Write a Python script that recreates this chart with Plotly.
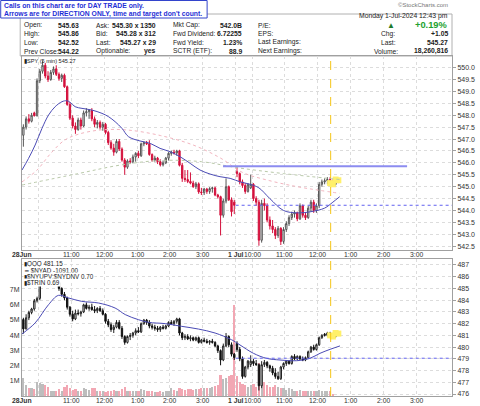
import plotly.graph_objects as go

# ---------------- data ----------------
# SPY 5-min bars: Jun 28 09:30-15:55 (idx 0-77), Jul 1 09:30-12:25 (idx 78-115)
spy_open = [547.16,547.50,547.85,547.75,548.10,547.98,549.45,549.85,550.10,549.65,
            549.50,549.80,549.95,549.72,549.55,549.68,549.20,548.45,547.88,547.55,
            547.40,547.80,547.55,548.10,548.15,548.20,547.85,547.62,547.70,547.50,
            547.62,547.28,546.85,546.62,546.45,546.90,546.58,546.12,545.82,546.08,
            546.05,546.25,546.40,546.30,546.80,546.85,546.80,546.35,546.12,546.20,
            546.05,545.92,546.00,546.20,546.40,546.45,546.42,546.50,545.90,545.35,
            545.30,545.22,545.15,545.00,545.12,544.78,544.75,544.90,544.80,544.92,
            544.95,544.65,544.58,543.80,544.40,545.00,544.45,544.35,
            545.63,545.55,545.20,545.05,544.80,544.95,545.10,544.50,544.35,542.75,
            544.30,544.20,543.60,543.35,543.20,542.95,543.25,542.70,543.20,543.45,
            543.70,543.85,543.90,543.65,544.20,543.80,543.70,544.10,544.35,544.00,
            544.20,545.10,545.20,545.25,545.30,545.15,545.10,545.30]
spy_high = [547.62,547.95,548.05,548.10,548.15,549.55,549.95,550.28,550.20,549.85,
            549.90,550.05,550.10,549.80,549.75,549.75,549.25,548.55,548.00,547.70,
            547.90,547.90,548.20,548.30,548.25,548.30,547.95,547.80,547.78,547.72,
            547.68,547.35,546.95,546.80,547.00,547.00,546.65,546.20,546.15,546.20,
            546.35,546.45,546.50,546.85,546.90,546.92,546.95,546.40,546.30,546.25,
            546.15,546.10,546.25,546.45,546.52,546.55,546.55,546.55,546.00,545.70,
            545.70,545.60,545.25,545.20,545.18,544.95,544.95,544.95,544.98,545.00,
            545.00,544.70,544.62,544.50,545.35,545.05,544.55,544.45,
            545.86,545.60,545.30,545.15,545.15,545.50,545.15,544.60,544.45,544.45,
            544.50,544.30,543.75,543.60,543.30,543.35,543.30,543.30,543.55,543.80,
            543.95,544.00,543.95,544.30,544.25,543.90,544.20,544.45,544.45,544.30,
            545.20,545.30,545.35,545.40,545.40,545.30,545.35,545.35]
spy_low = [546.68,547.40,547.65,547.70,547.95,547.95,549.35,549.75,549.55,549.40,
           549.45,549.70,549.65,549.45,549.40,549.15,548.40,547.80,547.45,547.22,
           547.35,547.40,547.50,547.95,547.85,547.75,547.50,547.45,547.40,547.35,
           547.20,546.75,546.55,546.30,546.40,546.50,546.05,545.50,545.75,545.95,
           545.98,546.05,546.20,546.25,546.70,546.75,546.30,546.05,546.05,545.95,
           545.85,545.85,545.95,546.10,546.30,546.35,546.30,545.85,545.20,545.20,
           545.15,545.10,544.95,544.90,544.70,544.65,544.65,544.70,544.70,544.75,
           544.60,544.50,542.95,543.70,544.30,544.40,543.75,543.85,
           545.40,545.10,544.95,544.70,544.75,544.90,544.40,544.20,542.52,542.65,
           544.00,543.50,543.20,543.05,542.80,542.85,542.55,542.60,543.10,543.35,
           543.60,543.70,543.55,543.60,543.70,543.60,543.65,543.95,543.90,543.90,
           544.10,545.00,545.10,545.10,545.05,545.00,545.05,545.15]
spy_close = [547.50,547.85,547.75,548.00,547.98,549.45,549.85,550.10,549.65,549.50,
             549.80,549.95,549.72,549.55,549.68,549.20,548.45,547.88,547.55,547.40,
             547.80,547.55,548.10,548.15,548.20,547.85,547.62,547.70,547.50,547.62,
             547.28,546.85,546.62,546.45,546.90,546.58,546.12,545.82,546.08,546.05,
             546.25,546.40,546.30,546.80,546.85,546.80,546.35,546.12,546.20,546.05,
             545.92,546.00,546.20,546.40,546.45,546.42,546.50,545.90,545.35,545.30,
             545.22,545.15,545.00,545.12,544.78,544.75,544.90,544.80,544.92,544.95,
             544.65,544.58,543.80,544.40,545.00,544.45,543.95,544.22,
             545.55,545.20,545.05,544.80,545.10,545.10,544.50,544.35,542.75,544.30,
             544.20,543.60,543.35,543.20,542.95,543.25,542.70,543.20,543.45,543.70,
             543.85,543.90,543.65,544.20,543.80,543.70,544.10,544.35,544.00,544.20,
             545.10,545.20,545.25,545.30,545.15,545.10,545.30,545.27]

# QQQ 5-min bars (same times)
qqq_open = [482.35,481.55,482.50,482.95,483.25,483.95,484.15,485.60,486.30,487.00,
            486.60,486.20,485.80,485.50,485.00,484.50,484.20,483.40,482.80,482.40,
            482.90,482.85,483.00,483.60,483.30,483.40,483.20,483.10,483.30,483.10,
            482.80,482.20,481.90,481.50,481.70,482.10,481.60,480.90,480.40,480.90,
            481.00,481.20,481.40,481.30,482.00,482.30,482.10,481.80,481.70,481.60,
            481.50,481.70,481.60,481.80,482.10,482.00,482.20,482.40,481.20,480.80,
            480.90,480.70,480.80,480.60,480.80,480.40,480.60,480.50,480.40,480.50,
            480.40,480.10,479.70,478.90,480.10,480.90,480.20,479.40,
            480.30,479.80,479.00,477.50,478.30,478.50,478.80,478.60,478.50,476.70,
            478.50,478.70,478.40,478.20,477.80,477.50,477.30,478.30,478.60,478.80,
            478.60,479.20,479.00,479.20,479.00,478.90,479.10,479.60,480.00,479.80,
            480.20,480.80,481.10,481.00,481.20,481.00,480.90,481.20]
qqq_high = [482.50,482.80,483.10,483.35,484.10,484.30,485.80,486.50,487.20,487.40,
            486.90,486.50,486.10,485.60,485.10,484.70,484.30,483.50,483.10,483.20,
            483.20,483.10,483.70,483.80,483.60,483.70,483.50,483.40,483.50,483.30,
            482.90,482.40,482.10,481.90,482.30,482.30,481.80,481.00,481.00,481.20,
            481.30,481.60,481.70,482.10,482.40,482.40,482.30,482.00,481.90,481.80,
            481.80,481.90,481.90,482.20,482.30,482.30,482.50,482.50,481.30,481.10,
            481.10,481.00,480.90,480.90,480.90,480.70,480.80,480.70,480.60,480.70,
            480.50,480.20,479.80,480.30,481.20,481.00,480.40,479.50,
            480.50,480.00,479.20,478.40,478.90,479.30,479.00,478.90,478.60,478.80,
            478.90,478.80,478.50,478.40,478.20,477.90,478.40,478.70,478.90,478.90,
            479.30,479.40,479.30,479.30,479.20,479.20,479.70,480.10,480.20,480.30,
            480.90,481.10,481.20,481.30,481.30,481.20,481.30,481.30]
qqq_low = [481.15,481.50,482.30,482.80,483.10,483.80,484.00,485.50,486.10,486.40,
           486.00,485.60,485.30,484.80,484.30,484.00,483.20,482.60,482.20,482.30,
           482.70,482.60,482.90,483.20,483.10,483.10,482.90,482.90,483.00,482.70,
           482.00,481.70,481.30,481.20,481.60,481.50,480.70,480.20,480.30,480.60,
           480.80,481.00,481.20,481.20,481.90,481.90,481.60,481.50,481.40,481.30,
           481.30,481.50,481.50,481.70,481.90,481.80,482.00,481.00,480.60,480.60,
           480.60,480.50,480.50,480.50,480.30,480.30,480.40,480.30,480.20,480.30,
           480.00,479.50,478.45,478.80,480.00,480.00,479.20,478.90,
           479.60,478.80,477.30,477.40,478.10,478.30,478.40,478.40,476.30,476.50,
           478.30,478.20,477.90,477.60,477.30,477.20,477.20,478.10,478.40,478.50,
           478.50,478.90,478.90,478.90,478.80,478.80,479.00,479.50,479.70,479.70,
           480.10,480.70,480.90,480.90,480.90,480.80,480.80,481.00]
qqq_close = [481.55,482.50,482.95,483.25,483.95,484.15,485.60,486.30,487.00,486.60,
             486.20,485.80,485.50,485.00,484.50,484.20,483.40,482.80,482.40,482.90,
             482.85,483.00,483.60,483.30,483.40,483.20,483.10,483.30,483.10,482.80,
             482.20,481.90,481.50,481.70,482.10,481.60,480.90,480.40,480.90,481.00,
             481.20,481.40,481.30,482.00,482.30,482.10,481.80,481.70,481.60,481.50,
             481.70,481.60,481.80,482.10,482.00,482.20,482.40,481.20,480.80,480.90,
             480.70,480.80,480.60,480.80,480.40,480.60,480.50,480.40,480.50,480.40,
             480.10,479.70,478.90,480.10,480.90,480.20,479.40,479.11,
             479.80,479.00,477.50,478.30,478.80,478.80,478.60,478.50,476.70,478.50,
             478.70,478.40,478.20,477.80,477.50,477.30,478.30,478.60,478.80,478.60,
             479.20,479.00,479.20,479.00,478.90,479.10,479.60,480.00,479.80,480.20,
             480.80,481.00,481.00,481.20,481.00,480.90,481.20,481.15]

# SPY volume per bar, millions
volume_m = [1.15,0.75,0.55,0.50,0.45,0.95,0.85,0.80,0.75,0.60,
            0.35,0.30,0.35,0.45,0.35,0.60,0.75,0.55,0.40,0.45,
            0.35,0.30,0.50,0.45,0.40,0.55,0.50,0.35,0.30,0.30,
            0.25,0.30,0.35,0.40,0.30,0.30,0.45,0.60,0.30,0.35,
            0.30,0.30,0.30,0.45,0.40,0.35,0.30,0.30,0.25,0.25,
            0.30,0.25,0.30,0.30,0.55,0.40,0.30,0.50,0.45,0.40,
            0.45,0.45,0.40,0.45,0.45,0.50,0.55,0.50,0.55,0.60,
            0.65,0.70,1.35,1.10,1.20,1.30,1.40,6.00,
            1.30,0.90,0.80,0.70,0.60,0.70,0.80,0.60,2.20,1.40,
            0.90,0.70,0.60,0.60,0.70,0.60,0.50,0.50,0.40,0.50,
            0.45,0.35,0.30,0.40,0.35,0.30,0.35,0.30,0.30,0.35,
            0.40,0.35,0.30,0.30,0.30,0.15]

# moving averages: (bar index, value)
spy_ma_idx = [-0.5,1.9,4.3,6.8,9.2,11.6,14.1,15.9,17.1,18.9,21.4,25,28.7,31.1,33.5,36,38.4,
              42.6,46.3,49.9,53.6,57.2,60.9,64.5,68.2,71.8,75.5,79.2,82.8,86,90,95,100,105,110,113,115.5]
spy_ma_val = [545.70,546.19,546.75,547.45,548.01,548.36,548.57,548.61,548.54,548.36,548.29,548.22,
              548.08,547.94,547.73,547.45,547.10,546.92,546.82,546.61,546.47,546.26,545.98,545.70,
              545.53,545.42,545.35,545.20,545.10,544.95,544.50,544.00,543.90,543.95,544.10,544.35,544.58]
spy_ma2_idx = [-0.5,5,10,15,20,28,38,50,62,72,80,90,100,108,115.5]
spy_ma2_val = [545.20,545.70,546.40,546.95,547.20,547.38,547.38,547.15,546.75,546.20,545.60,545.25,545.00,544.85,544.72]
spy_ma3_idx = [-0.5,20,35,50,65,78,95,115.5]
spy_ma3_val = [545.07,545.55,545.90,546.10,546.05,545.80,545.55,545.30]
qqq_ma_idx = [-0.5,4.3,9.2,12.8,16.5,21.3,27.4,33.5,37.2,42,45.7,51.8,57.8,63.9,70,76,79.1,84,88.8,93.7,99.8,104.6,108.3,112,115.6]
qqq_ma_val = [481.12,482.06,483.62,484.41,484.19,483.90,483.76,483.33,482.77,482.34,482.11,482.00,
              481.77,481.54,481.20,480.63,480.18,479.47,479.04,478.90,478.84,479.04,479.47,479.81,480.10]

spy_prev_close = 544.22
qqq_prev_close = 479.05
spy_day_high = 545.86
high_line_span = [73.4, 140.6]
prev_close_start = 78
marker_time = 112.7
arrow_bars = [86, 94]
highlight_bars = [112, 113, 114, 115]

tick_pos = [0, 6, 18, 30, 42, 54, 66, 78, 84, 96, 108, 120, 132, 144]
tick_text = ["<b>28Jun</b>", "", "11:00", "12:00", "1:00", "2:00", "3:00",
             "<b>1 Jul</b>", "10:00", "11:00", "12:00", "1:00", "2:00", "3:00"]
spy_ticks = [542.5 + 0.5 * k for k in range(16)]
qqq_ticks = list(range(476, 488))
vol_ticks = [1, 2, 3, 4, 5, 6, 7]

header_rows = [["Open:", "545.63", "Ask:", "545.30 x 1350", "Mkt Cap:", "542.0B", "P/E:", "Chg:", "+1.05"],
               ["High:", "545.86", "Bid:", "545.28 x 312", "Fwd Dividend:", "6.72255", "EPS:", "Last:", "545.27"],
               ["Low:", "542.52", "Last:", "545.27 x 29", "Fwd Yield:", "1.23%", "Last Earnings:", "Volume:", "18,260,816"],
               ["Prev Close:", "544.22", "Optionable:", "yes", "SCTR (ETF):", "88.9", "Next Earnings:", "", ""]]

# ---------------- figure ----------------
n = len(spy_close)
xs = [k + 0.5 for k in range(n)]
FONT = "Liberation Sans, Arial, sans-serif"
PL, PR, PT, PB = 21.8, 452.0, 56.0, 396.0


def px(x):
    return (x - PL) / (PR - PL)


def py(y):
    return (PB - y) / (PB - PT)


fig = go.Figure()

# volume (bottom, left axis)
vol_colors = ["#bdbdbd" if c >= o else "#f2a7b3" for o, c in zip(spy_open, spy_close)]
fig.add_trace(go.Bar(x=xs, y=[v * 1e6 for v in volume_m], marker=dict(color=vol_colors, line_width=0),
                     width=0.8, xaxis="x2", yaxis="y2", showlegend=False))

# highlight behind last bars
fig.add_trace(go.Scatter(x=[b + 0.5 for b in highlight_bars], y=[spy_close[b] for b in highlight_bars],
                         mode="markers", marker=dict(symbol="square", size=6, color="#fff06a"),
                         xaxis="x", yaxis="y", showlegend=False))
fig.add_trace(go.Scatter(x=[b + 0.5 for b in highlight_bars], y=[qqq_close[b] for b in highlight_bars],
                         mode="markers", marker=dict(symbol="square", size=6, color="#fff06a"),
                         xaxis="x2", yaxis="y3", showlegend=False))

# SPY MAs
fig.add_trace(go.Scatter(x=[k + 0.5 for k in spy_ma3_idx], y=spy_ma3_val, mode="lines",
                         line=dict(color="#b9c9a9", width=1, dash="dot", shape="spline"),
                         xaxis="x", yaxis="y", showlegend=False))
fig.add_trace(go.Scatter(x=[k + 0.5 for k in spy_ma2_idx], y=spy_ma2_val, mode="lines",
                         line=dict(color="#f2b5bf", width=1, dash="dot", shape="spline"),
                         xaxis="x", yaxis="y", showlegend=False))
fig.add_trace(go.Scatter(x=[k + 0.5 for k in spy_ma_idx], y=spy_ma_val, mode="lines",
                         line=dict(color="#4b4bb5", width=1, shape="spline"),
                         xaxis="x", yaxis="y", showlegend=False))

# SPY candles
fig.add_trace(go.Candlestick(x=xs, open=spy_open, high=spy_high, low=spy_low, close=spy_close,
                             increasing=dict(line=dict(color="#555555", width=1), fillcolor="#ffffff"),
                             decreasing=dict(line=dict(color="#d4103c", width=1), fillcolor="#d4103c"),
                             whiskerwidth=0, xaxis="x", yaxis="y", showlegend=False, hoverinfo="skip"))

# QQQ MA + candles
fig.add_trace(go.Scatter(x=[k + 0.5 for k in qqq_ma_idx], y=qqq_ma_val, mode="lines",
                         line=dict(color="#4b4bb5", width=1, shape="spline"),
                         xaxis="x2", yaxis="y3", showlegend=False))
fig.add_trace(go.Candlestick(x=xs, open=qqq_open, high=qqq_high, low=qqq_low, close=qqq_close,
                             increasing=dict(line=dict(color="#222222", width=1), fillcolor="#ffffff"),
                             decreasing=dict(line=dict(color="#111111", width=1), fillcolor="#111111"),
                             whiskerwidth=0, xaxis="x2", yaxis="y3", showlegend=False, hoverinfo="skip"))

# reference lines
fig.add_trace(go.Scatter(x=high_line_span, y=[spy_day_high, spy_day_high], mode="lines",
                         line=dict(color="#8c8cf0", width=2), xaxis="x", yaxis="y", showlegend=False))
fig.add_trace(go.Scatter(x=[prev_close_start, 157], y=[spy_prev_close, spy_prev_close], mode="lines",
                         line=dict(color="#6060f0", width=1, dash="dot"), xaxis="x", yaxis="y", showlegend=False))
fig.add_trace(go.Scatter(x=[prev_close_start, 157], y=[qqq_prev_close, qqq_prev_close], mode="lines",
                         line=dict(color="#6060f0", width=1, dash="dot"), xaxis="x2", yaxis="y3", showlegend=False))

# direction arrows under the lows
fig.add_trace(go.Scatter(x=[b + 0.5 for b in arrow_bars], y=[542.02] * len(arrow_bars), mode="markers",
                         marker=dict(symbol="square", size=5, color="#1f9a2a", line=dict(width=0)),
                         cliponaxis=False, xaxis="x", yaxis="y", showlegend=False))
fig.add_trace(go.Scatter(x=[b + 0.5 for b in arrow_bars], y=[542.28] * len(arrow_bars), mode="markers",
                         marker=dict(symbol="triangle-up", size=10, color="#1f9a2a", line=dict(width=0)),
                         cliponaxis=False, xaxis="x", yaxis="y", showlegend=False))

axis_common = dict(showline=True, linecolor="#a0a0a0", linewidth=1, mirror=True,
                   gridcolor="#dcdcdc", griddash="dot", gridwidth=1, zeroline=False,
                   tickfont=dict(size=7, color="#333333", family=FONT))
fig.update_layout(
    width=480, height=406, margin=dict(l=PL, r=480 - PR, t=PT, b=406 - PB, autoexpand=False),
    paper_bgcolor="white", plot_bgcolor="white", showlegend=False, bargap=0,
    font=dict(family=FONT, size=7, color="#222"),
    xaxis=dict(domain=[0, 1], range=[0, 157], anchor="y", tickmode="array", tickvals=tick_pos,
               showticklabels=False, ticks="", rangeslider=dict(visible=False), **axis_common),
    yaxis=dict(domain=[0.4294, 1], range=[542.34, 550.49], side="right", anchor="x",
               tickmode="array", tickvals=spy_ticks, ticktext=[f"{v:.1f}" for v in spy_ticks],
               ticks="outside", ticklen=3, tickcolor="#a0a0a0", **axis_common),
    xaxis2=dict(domain=[0, 1], range=[0, 157], anchor="y2", tickmode="array", tickvals=tick_pos,
                showticklabels=False, ticks="", rangeslider=dict(visible=False), **axis_common),
    yaxis2=dict(domain=[0, 0.4029], range=[0, 9.0e6], side="left", anchor="x2",
                tickmode="array", tickvals=[v * 1e6 for v in vol_ticks], ticktext=[f"{v}M" for v in vol_ticks],
                ticks="", showgrid=False, **{k: v for k, v in axis_common.items() if k not in ("gridcolor", "griddash", "gridwidth")}),
    yaxis3=dict(range=[475.83, 487.51], side="right", overlaying="y2", anchor="x2",
                tickmode="array", tickvals=qqq_ticks, ticktext=[str(v) for v in qqq_ticks],
                ticks="outside", ticklen=3, tickcolor="#a0a0a0", **axis_common),
)

# time-axis labels for both panels
for pos, txt in zip(tick_pos, tick_text):
    if not txt:
        continue
    for xr, yy in (("x", 254.8), ("x2", 400.6)):
        fig.add_annotation(text=txt, xref=xr, yref="paper", x=pos, y=py(yy), xanchor="center",
                           yanchor="middle", showarrow=False, borderpad=0,
                           font=dict(size=6.8, color="#333333", family=FONT))

# vertical marker line in both panels
fig.add_shape(type="line", xref="x", yref="y domain", x0=marker_time, x1=marker_time, y0=0, y1=1,
              line=dict(color="#f5c518", width=1, dash="dash"))
fig.add_shape(type="line", xref="x2", yref="y2 domain", x0=marker_time, x1=marker_time, y0=0, y1=1,
              line=dict(color="#f5c518", width=1, dash="dash"))

# header box and callout box
fig.add_shape(type="rect", xref="paper", yref="paper", x0=px(20), x1=px(452), y0=py(56), y1=py(14),
              line=dict(color="#b0b0b0", width=1), fillcolor="white", layer="below")
fig.add_shape(type="rect", xref="paper", yref="paper", x0=px(0.5), x1=px(207), y0=py(18), y1=py(0.5),
              line=dict(color="#3344cc", width=1), fillcolor="white")


def ann(text, x, y, anchor="left", size=7, color="#222222", bold=False, bg=None):
    t = f"<b>{text}</b>" if bold else text
    fig.add_annotation(text=t, xref="paper", yref="paper", x=px(x), y=py(y), xanchor=anchor,
                       yanchor="middle", showarrow=False, font=dict(size=size, color=color, family=FONT),
                       bgcolor=bg, borderpad=0)


ann("Calls on this chart are for DAY TRADE only.", 3, 5.8, color="#1f2fd6", bold=True, size=6.8)
ann("Arrows are for DIRECTION ONLY, time and target don't count.", 3, 13.6, color="#1f2fd6", bold=True, size=6.8)
ann("©StockCharts.com", 449, 5, anchor="right", size=6, color="#777777")
ann("Monday 1-Jul-2024 12:43 pm", 449, 16.2, anchor="right", size=6.8)

row_y = [25, 33.6, 42.4, 51]
for r, row in enumerate(header_rows):
    y = row_y[r]
    ann(row[0], 23, y, size=6.7)
    ann(row[1], 80, y, anchor="right", bold=True, size=6.8)
    ann(row[2], 95, y, size=6.7)
    ann(row[3], 157, y, anchor="right", bold=True, size=6.8)
    ann(row[4], 172, y, size=6.7)
    ann(row[5], 243, y, anchor="right", bold=True, size=6.8)
    ann(row[6], 257, y, size=6.7)
    if r < 3:
        ann(row[7], 380 if r < 2 else 373, row_y[r + 1], size=6.7)
        ann(row[8], 449, row_y[r + 1], anchor="right", bold=True, size=6.8)
ann("▲", 390.5, 25, anchor="center", color="#1e7b2a", size=8)
ann("+0.19%", 449, 25, anchor="right", color="#22a12e", bold=True, size=9.3)

# panel legends
ann("▮SPY (5 min) 545.27", 23, 60.8, size=5.6, color="#222222")
ann("▮QQQ 481.15", 22.5, 264.2, size=6.3, bg="white")
ann("━ $NYAD -1091.00", 22.5, 270.6, size=6.3, bg="white")
ann("▮$NYUPV:$NYDNV 0.70", 22.5, 276.4, size=6.3, bg="white")
ann("▮$TRIN 0.69", 22.5, 282.2, size=6.3, bg="white")

fig.write_html("out.html")
